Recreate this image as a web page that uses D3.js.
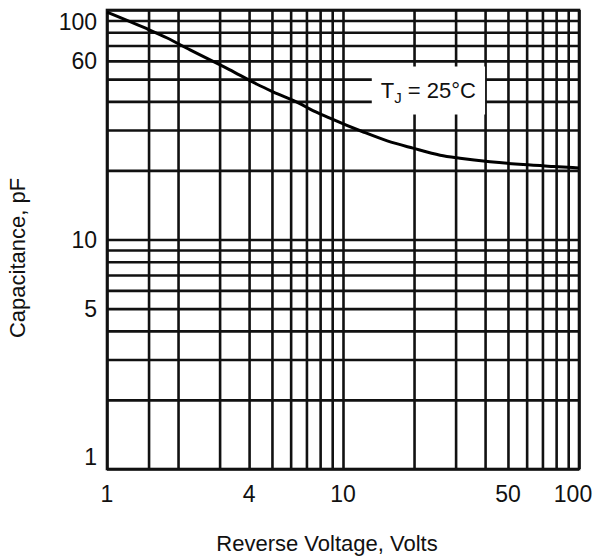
<!DOCTYPE html>
<html>
<head>
<meta charset="utf-8">
<script src="https://cdn.jsdelivr.net/npm/d3@7"></script>
<style>
  body { margin: 0; background: #fff; }
  text { font-family: "Liberation Sans", Arial, sans-serif; fill: #111; }
</style>
</head>
<body>
<div id="chart"></div>
<script>
// curve (reverse voltage in V, capacitance in pF)
const voltage = [1, 1.45, 1.8, 2.25, 3.3, 4.3, 5.05, 6.6, 7.25, 8.8, 12.2, 15.4, 19.8, 25.8, 31.3, 42, 58, 78, 100];
const capacitance = [98, 83.5, 75.5, 67, 55, 47.6, 44, 39, 37, 33.8, 29.4, 26.9, 25, 23.3, 22.6, 21.8, 21.2, 20.8, 20.5];

// grid lines and labelled ticks
const xGrid = [1, 1.5, 2, 3, 4, 5, 6, 7, 8, 9, 10, 20, 30, 40, 50, 60, 70, 80, 90, 100];
const yGrid = [1, 2, 3, 4, 5, 6, 7, 8, 9, 10, 20, 30, 40, 50, 60, 70, 80, 90, 100];
const xTicks = [1, 4, 10, 50, 100];
const yTicks = [1, 5, 10, 60, 100];

const W = 596, H = 558;
const margin = {top: 10, right: 17, bottom: 89, left: 107};
const width = W - margin.left - margin.right;
const height = H - margin.top - margin.bottom;

const svg = d3.select("#chart")
    .append("svg")
    .attr("width", W)
    .attr("height", H);

const g = svg.append("g")
    .attr("transform", "translate(" + margin.left + "," + margin.top + ")");

const x = d3.scaleLog().domain([1, 100]).range([0, width]);
const y = d3.scaleLog().domain([1, 100]).range([height, 0]);

// grid
g.append("g")
    .attr("class", "gridx")
    .call(d3.axisBottom(x).tickValues(xGrid).tickSize(height).tickSizeOuter(0).tickFormat(""))
    .call((s) => s.select(".domain").remove());

g.append("g")
    .attr("class", "gridy")
    .call(d3.axisRight(y).tickValues(yGrid).tickSize(width).tickSizeOuter(0).tickFormat(""))
    .call((s) => s.select(".domain").remove());

g.selectAll(".gridx line, .gridy line")
    .attr("stroke", "#111")
    .attr("stroke-width", 2.6);

// frame
g.append("rect")
    .attr("width", width)
    .attr("height", height)
    .attr("fill", "none")
    .attr("stroke", "#111")
    .attr("stroke-width", 2.6);

// curve
const pts = voltage.map((v, i) => [v, capacitance[i]]);
g.append("path")
    .datum(pts)
    .attr("fill", "none")
    .attr("stroke", "#000")
    .attr("stroke-width", 3)
    .attr("stroke-linejoin", "round")
    .attr("d", d3.line()
        .x((d) => x(d[0]))
        .y((d) => y(d[1]))
        .curve(d3.curveMonotoneX));

// annotation, white box cuts the grid
const note = g.append("g")
    .attr("transform", "translate(" + x(23) + "," + y(45) + ")");
const noteBox = note.append("rect").attr("fill", "#fff");
const noteText = note.append("text")
    .attr("text-anchor", "middle")
    .attr("dy", "0.36em")
    .style("font-size", "22px");
noteText.append("tspan").text("T");
noteText.append("tspan").attr("dy", 5).style("font-size", "15px").text("J");
noteText.append("tspan").attr("dy", -5).text(" = 25°C");
const bb = noteText.node().getBBox();
noteBox
    .attr("x", bb.x - 9)
    .attr("y", bb.y - 11)
    .attr("width", bb.width + 18)
    .attr("height", bb.height + 20);

// tick labels
g.selectAll(".xlab")
    .data(xTicks)
    .enter()
    .append("text")
    .attr("class", "xlab")
    .attr("text-anchor", "middle")
    .attr("x", (d) => Math.min(x(d), width - 6))
    .attr("y", height + 33)
    .style("font-size", "23px")
    .text((d) => d);

g.selectAll(".ylab")
    .data(yTicks)
    .enter()
    .append("text")
    .attr("class", "ylab")
    .attr("text-anchor", "end")
    .attr("x", -10)
    .attr("y", (d) => Math.max(12, Math.min(y(d), height - 12)))
    .attr("dy", "0.36em")
    .style("font-size", "23px")
    .text((d) => d);

// axis titles
svg.append("text")
    .attr("text-anchor", "middle")
    .attr("x", margin.left + width / 2 - 16)
    .attr("y", 551)
    .style("font-size", "22px")
    .text("Reverse Voltage, Volts");

svg.append("text")
    .attr("text-anchor", "middle")
    .attr("transform", "translate(25," + (margin.top + 248) + ") rotate(-90)")
    .style("font-size", "22px")
    .text("Capacitance, pF");
</script>
</body>
</html>
